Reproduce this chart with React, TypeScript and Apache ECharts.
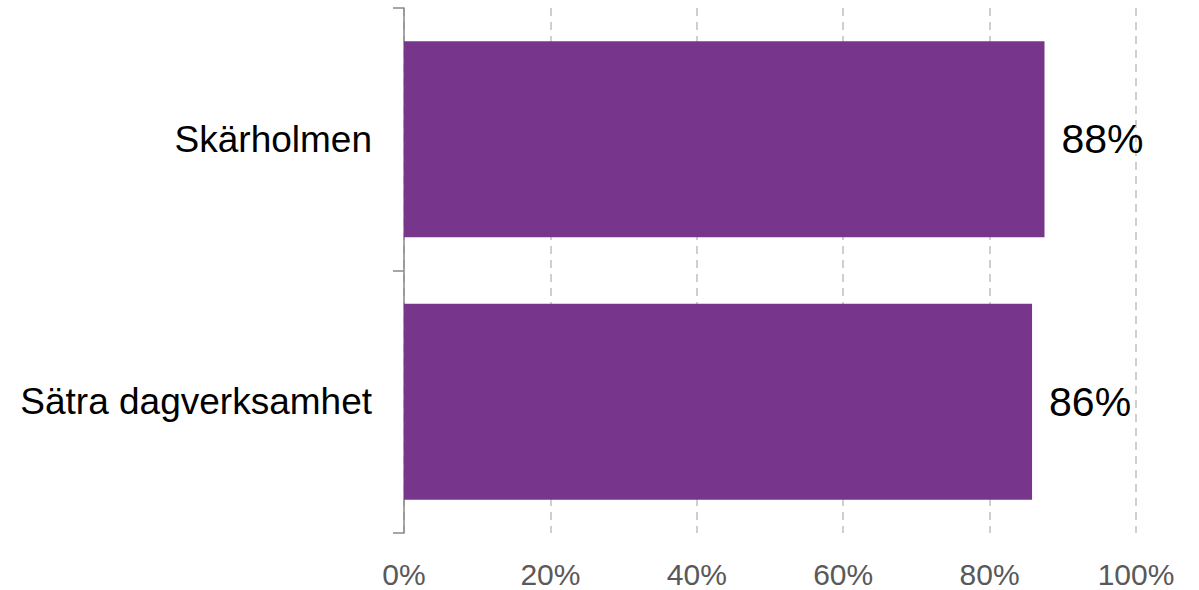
import React, { useEffect, useRef } from "react";
import * as echarts from "echarts";

const categories = ["Skärholmen", "Sätra dagverksamhet"];
const values = [87.5, 85.8];
const xTicks = [0, 20, 40, 60, 80, 100];

export default function App() {
  const ref = useRef<HTMLDivElement>(null);
  useEffect(() => {
    if (!ref.current) return;
    const chart = echarts.init(ref.current, undefined, { renderer: "svg" });
    chart.setOption({
      animation: false,
      grid: { left: 404, right: 63, top: 8, bottom: 57, containLabel: false },
      xAxis: {
        type: "value",
        min: xTicks[0],
        max: xTicks[xTicks.length - 1],
        interval: 20,
        axisLine: { show: false },
        axisTick: { show: false },
        axisLabel: {
          formatter: (v: number) => v + "%",
          fontFamily: "Liberation Sans, Arial, sans-serif",
          fontSize: 30,
          lineHeight: 30,
          color: "#595959",
          margin: 26,
        },
        splitLine: {
          show: true,
          lineStyle: { color: "#c0c0c0", type: [8, 6], width: 1.5 },
        },
      },
      yAxis: {
        type: "category",
        data: categories,
        inverse: true,
        axisLine: { show: true, lineStyle: { color: "#898989", width: 1.5 } },
        axisTick: { show: true, length: 11, lineStyle: { color: "#898989", width: 1.5 } },
        axisLabel: {
          fontFamily: "Liberation Sans, Arial, sans-serif",
          fontSize: 37,
          color: "#000000",
          margin: 32,
        },
        splitLine: { show: false },
      },
      series: [
        {
          type: "bar",
          data: values,
          barCategoryGap: "25.4%",
          itemStyle: { color: "#77368B" },
          label: {
            show: true,
            position: "right",
            distance: 17,
            formatter: (p: any) => Math.round(p.value) + "%",
            fontFamily: "Liberation Sans, Arial, sans-serif",
            fontSize: 41,
            color: "#000000",
          },
        },
      ],
    });
    return () => chart.dispose();
  }, []);
  return <div ref={ref} style={{ width: 1199, height: 590, position: "absolute", left: 0, top: 0 }} />;
}
